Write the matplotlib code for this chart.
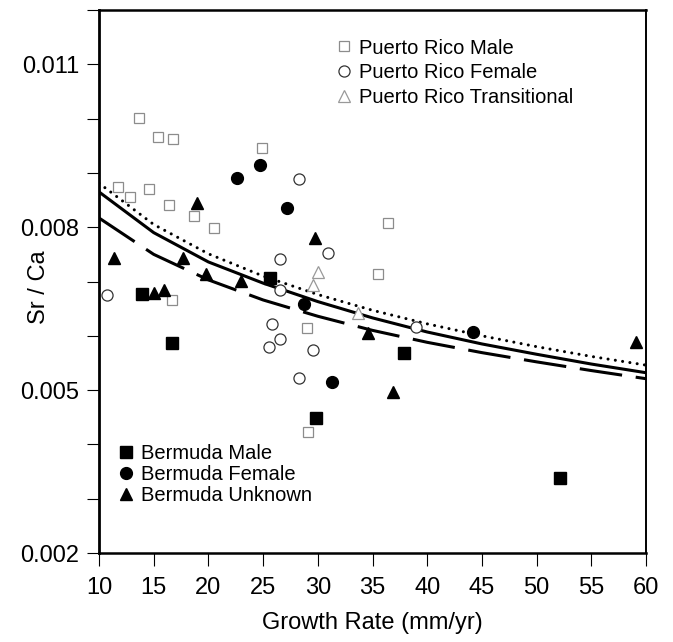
import numpy as np
import matplotlib.pyplot as plt

plt.rcParams['font.family'] = ['Liberation Sans', 'DejaVu Sans']

# Puerto Rico samples
pr_male_x = [13.7, 15.4, 16.8, 24.9, 11.7, 14.6, 12.8, 16.4, 18.7, 20.5, 36.4, 35.5, 16.7, 29.0, 29.1]
pr_male_y = [0.01001, 0.00966, 0.00962, 0.00946, 0.00874, 0.00870, 0.00856, 0.00841,
             0.00821, 0.00799, 0.00808, 0.00714, 0.00666, 0.00614, 0.00423]

pr_female_x = [28.3, 30.9, 26.5, 26.5, 10.7, 39.0, 25.8, 26.5, 25.5, 29.6, 28.3]
pr_female_y = [0.00889, 0.00752, 0.00741, 0.00684, 0.00675, 0.00616, 0.00622,
               0.00594, 0.00579, 0.00574, 0.00522]

pr_trans_x = [30.0, 29.6, 33.7]
pr_trans_y = [0.00717, 0.00694, 0.00642]

# Bermuda samples
bm_male_x = [25.6, 13.9, 16.7, 37.9, 29.8, 52.1]
bm_male_y = [0.00706, 0.00677, 0.00587, 0.00568, 0.00449, 0.00338]

bm_female_x = [24.7, 22.6, 27.2, 28.7, 31.3, 44.2]
bm_female_y = [0.00915, 0.00891, 0.00835, 0.00659, 0.00515, 0.00607]

bm_unk_x = [19.0, 29.7, 11.4, 17.7, 19.8, 23.0, 15.0, 15.9, 34.6, 36.9, 59.1]
bm_unk_y = [0.00845, 0.00780, 0.00743, 0.00743, 0.00714, 0.00701, 0.00679,
            0.00684, 0.00605, 0.00497, 0.00589]

curve_x = [10, 15, 20, 25, 30, 35, 40, 45, 50, 55, 60]
dotted_y = [0.00881, 0.00805, 0.00751, 0.00710, 0.00676, 0.00647, 0.00622,
            0.00600, 0.00580, 0.00562, 0.00546]
solid_y = [0.00865, 0.00790, 0.00736, 0.00697, 0.00663, 0.00633, 0.00607,
           0.00585, 0.00566, 0.00548, 0.00532]
dashed_y = [0.00817, 0.00750, 0.00703, 0.00666, 0.00636, 0.00610, 0.00588,
            0.00569, 0.00552, 0.00536, 0.00521]

fig = plt.figure(figsize=(6.73, 6.42), dpi=100)
ax = fig.add_axes([99 / 673, 89 / 642, 547 / 673, 543 / 642])

ax.plot(curve_x, dotted_y, color='black', lw=2.2, linestyle=(0, (0.01, 2.4)),
        dash_capstyle='round')
ax.plot(curve_x, solid_y, color='black', lw=2.2)
ax.plot(curve_x, dashed_y, color='black', lw=2.2, linestyle=(0, (14, 4.5)))

h1, = ax.plot(pr_male_x, pr_male_y, 's', ms=7, mfc='white', mec='0.55', mew=0.9,
              linestyle='none', label='Puerto Rico Male')
h2, = ax.plot(pr_female_x, pr_female_y, 'o', ms=8, mfc='white', mec='0.2', mew=0.9,
              linestyle='none', label='Puerto Rico Female')
h3, = ax.plot(pr_trans_x, pr_trans_y, '^', ms=8, mfc='white', mec='0.6', mew=0.9,
              linestyle='none', label='Puerto Rico Transitional')

h4, = ax.plot(bm_male_x, bm_male_y, 's', ms=8, color='black', linestyle='none',
              label='Bermuda Male')
h5, = ax.plot(bm_female_x, bm_female_y, 'o', ms=8.5, color='black', linestyle='none',
              label='Bermuda Female')
h6, = ax.plot(bm_unk_x, bm_unk_y, '^', ms=8.5, color='black', linestyle='none',
              label='Bermuda Unknown')

leg1 = ax.legend(handles=[h1, h2, h3], loc='upper left', bbox_to_anchor=(0.418, 0.966),
                 frameon=False, fontsize=14.5, handlelength=0.6, handletextpad=0.45,
                 labelspacing=0.28, borderpad=0)
ax.add_artist(leg1)
ax.legend(handles=[h4, h5, h6], loc='upper left', bbox_to_anchor=(0.02, 0.22),
          frameon=False, fontsize=14.5, handlelength=0.6, handletextpad=0.45,
          labelspacing=0.12, borderpad=0)

ax.set_xlim(10, 60)
ax.set_ylim(0.002, 0.012)
ax.set_xticks(np.arange(10, 61, 5))
ax.set_yticks(np.arange(0.002, 0.01201, 0.001))
ax.set_yticklabels(['0.002', '', '', '0.005', '', '', '0.008', '', '', '0.011', ''])
ax.tick_params(direction='out', length=9, width=0.8, labelsize=17, pad=5)
ax.tick_params(axis='x', pad=8)

ax.set_xlabel('Growth Rate (mm/yr)', fontsize=17, labelpad=10)
ax.set_ylabel('Sr / Ca', fontsize=17)
ax.yaxis.set_label_coords(-0.09, 0.49)

ax.spines['left'].set_linewidth(2.0)
ax.spines['bottom'].set_linewidth(1.8)
ax.spines['top'].set_linewidth(1.8)
ax.spines['right'].set_linewidth(1.4)

fig.savefig('out.png', dpi=100)
